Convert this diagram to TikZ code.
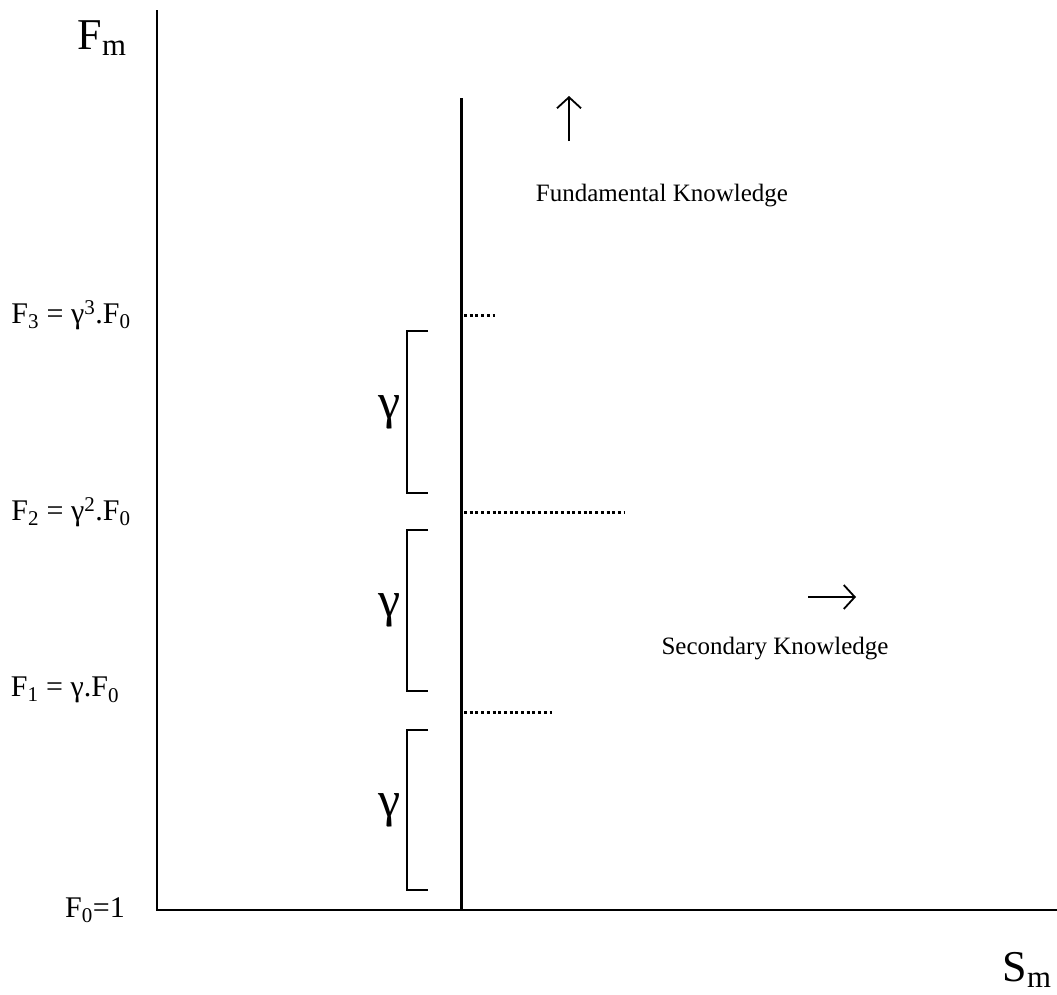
\documentclass[tikz,border=0pt]{standalone}
\usepackage{fontspec}
\setmainfont{Liberation Serif}
\usetikzlibrary{positioning, calc, arrows.meta}

\begin{document}
\begin{tikzpicture}[x=1pt, y=-1pt,
    axis/.style={line width=1.6pt},
    bar/.style={line width=3pt},
    lvl/.style={line width=3pt, dash pattern=on 3pt off 2.7pt},
    brk/.style={line width=1.2pt},
    dir/.style={line width=1.8pt, -{Straight Barb[length=11pt, width=24pt, line width=1.8pt]}},
    lab/.style={inner sep=0pt, font=\fontsize{30}{34}\selectfont},
    gam/.style={inner sep=0pt, font=\fontsize{50}{54}\selectfont},
    big/.style={inner sep=0pt, font=\fontsize{44}{48}\selectfont},
    txt/.style={inner sep=0pt, font=\fontsize{25}{29}\selectfont}]
\useasboundingbox (0,0) rectangle (1057,994);
% axes
\coordinate (o) at (157,910);
\coordinate (ytop) at (157,10);
\coordinate (xend) at (1057,910);
\draw[axis] (ytop) -- (o) -- (xend);
\node[big] (fm) at (102,38) {F\textsubscript{m}};
\node[big] (sm) at (1027,970) {S\textsubscript{m}};
% threshold line
\coordinate (bartop) at (461,98);
\coordinate (barbot) at (461,910);
\draw[bar] (bartop) -- (barbot);
% levels
\coordinate (l3) at (464,315);
\coordinate (l3e) at (495,315);
\coordinate (l2) at (464,512);
\coordinate (l2e) at (625,512);
\coordinate (l1) at (464,712);
\coordinate (l1e) at (552,712);
\draw[lvl] (l3) -- (l3e);
\draw[lvl] (l2) -- (l2e);
\draw[lvl] (l1) -- (l1e);
\node[lab] (f3) at (71,315) {F\textsubscript{3} = γ\textsuperscript{3}.F\textsubscript{0}};
\node[lab] (f2) at (71,512) {F\textsubscript{2} = γ\textsuperscript{2}.F\textsubscript{0}};
\node[lab] (f1) at (65,690) {F\textsubscript{1} = γ.F\textsubscript{0}};
\node[lab] (f0) at (95,910) {F\textsubscript{0}=1};
% brackets
\foreach \i/\t/\b in {a/331/493, b/530/691, c/730/890} {
  \draw[brk] (428,\t) -- (407,\t) -- (407,\b) -- (428,\b);
  \node[gam] (g\i) at (390,{(\t+\b)/2}) {γ};
}
% directions
\coordinate (upb) at (569,141);
\coordinate (upt) at (569,96);
\draw[dir] (upb) -- (upt);
\node[txt] (fund) at (662,196) {Fundamental Knowledge};
\coordinate (rl) at (808,597);
\coordinate (rr) at (856,597);
\draw[dir] (rl) -- (rr);
\node[txt] (sec) at (775,649) {Secondary Knowledge};
\end{tikzpicture}
\end{document}
